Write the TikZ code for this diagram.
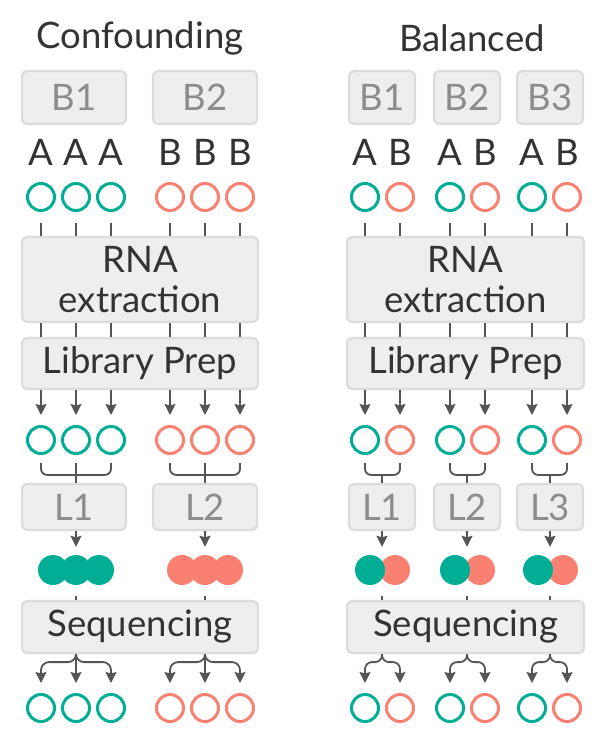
\documentclass[tikz,border=0pt]{standalone}
\usepackage{fontspec}
\setmainfont{Lato}
\usetikzlibrary{arrows.meta}
\definecolor{BTTeal}{HTML}{00AE96}
\definecolor{BTSalmon}{HTML}{FA8072}
\definecolor{BTFill}{HTML}{EEEEEE}
\definecolor{BTLine}{HTML}{DCDCDC}
\definecolor{BTLink}{HTML}{555555}
\definecolor{BTText}{HTML}{333333}
\definecolor{BTMuted}{HTML}{8C8C8C}

\begin{document}
\begin{tikzpicture}[x=1pt,y=-1pt,
  lbl/.style={text=BTText,font=\fontsize{36.5}{40}\selectfont,inner sep=0pt},
  stage/.style={lbl,draw=BTLine,fill=BTFill,line width=2.2pt,rounded corners=5pt,align=center},
  batchbox/.style={stage,text=BTMuted},
  smpl/.style={circle,draw=#1,line width=3pt,minimum size=27pt,inner sep=0pt},
  pool/.style={circle,fill=#1,minimum size=30pt,inner sep=0pt},
  link/.style={draw=BTLink,line width=1.8pt},
  arr/.style={link,-{Stealth[length=11pt,width=11pt,inset=1.5pt]}}]
\path[use as bounding box] (0,0) rectangle (616,750);
\fill[white] (0,0) rectangle (616,750);

% Confounding
\node[lbl] (cTitle) at (140,38) {Confounding};
\node[batchbox,minimum width=104pt,minimum height=53pt] (cB1) at (74,97.5) {B1};
\node[batchbox,minimum width=104pt,minimum height=53pt] (cB2) at (205,97.5) {B2};
\foreach \i/\x/\g/\c in {1/41/A/BTTeal,2/76/A/BTTeal,3/111/A/BTTeal,4/170/B/BTSalmon,5/205/B/BTSalmon,6/240/B/BTSalmon}{
  \node[lbl] (cT\i) at (\x,152.5) {\g};
  \node[smpl=\c] (cS\i) at (\x,197) {};
  \node[smpl=\c] (cR\i) at (\x,440) {};
  \node[smpl=\c] (cO\i) at (\x,708) {};
}
\node[stage,minimum width=236pt,minimum height=85pt] (cRna) at (140,279.5) {RNA\\extraction};
\node[stage,minimum width=236pt,minimum height=51pt] (cLib) at (140,363.5) {Library Prep};
\node[batchbox,minimum width=104pt,minimum height=46pt] (cL1) at (74,507) {L1};
\node[batchbox,minimum width=104pt,minimum height=46pt] (cL2) at (205,507) {L2};
\foreach \i/\x in {1/53,2/76,3/99}
  \node[pool=BTTeal] (cPa\i) at (\x,570) {};
\foreach \i/\x in {1/182,2/205,3/228}
  \node[pool=BTSalmon] (cPb\i) at (\x,570) {};
\node[stage,minimum width=236pt,minimum height=52pt] (cSeq) at (140,627) {Sequencing};

\foreach \i in {1,...,6}{
  \draw[link] ([yshift=-11pt]cS\i.south) -- (cS\i |- cRna.north);
  \draw[link] (cS\i |- cRna.south) -- (cS\i |- cLib.north);
  \draw[arr] (cS\i |- cLib.south) -- ([yshift=10pt]cR\i.north);
}
\foreach \k/\u/\m/\v/\p in {1/1/2/3/cPa2,2/4/5/6/cPb2}{
  \draw[link,rounded corners=6pt] ([yshift=-8pt]cR\u.south) |- ([yshift=8pt]cR\m |- cL\k.north) -| ([yshift=-8pt]cR\v.south);
  \draw[link] ([yshift=-8pt]cR\m.south) -- (cR\m |- cL\k.north);
  \draw[arr] (cR\m |- cL\k.south) -- ([yshift=8pt]\p.north);
  \draw[link] ([yshift=-11pt]\p.south) -- (\p |- cSeq.north);
  \draw[arr] (cO\m |- cSeq.south) -- ([yshift=10pt]cO\m.north);
  \draw[arr,rounded corners=8pt] (cO\m |- cSeq.south) -- ++(0,8) -| ([yshift=10pt]cO\u.north);
  \draw[arr,rounded corners=8pt] (cO\m |- cSeq.south) -- ++(0,8) -| ([yshift=10pt]cO\v.north);
}

% Balanced
\node[lbl] (bTitle) at (472,38) {Balanced};
\foreach \i/\x/\g/\c in {1/365/A/BTTeal,2/400/B/BTSalmon,3/450/A/BTTeal,4/485/B/BTSalmon,5/532/A/BTTeal,6/567/B/BTSalmon}{
  \node[lbl] (bT\i) at (\x,152.5) {\g};
  \node[smpl=\c] (bS\i) at (\x,197) {};
  \node[smpl=\c] (bR\i) at (\x,440) {};
  \node[smpl=\c] (bO\i) at (\x,708) {};
}
\node[stage,minimum width=237pt,minimum height=85pt] (bRna) at (465.5,279.5) {RNA\\extraction};
\node[stage,minimum width=237pt,minimum height=51pt] (bLib) at (465.5,363.5) {Library Prep};
\node[stage,minimum width=237pt,minimum height=52pt] (bSeq) at (465.5,627) {Sequencing};
\foreach \k/\g in {1/382,2/467,3/550}{
  \node[batchbox,minimum width=66pt,minimum height=53pt] (bB\k) at (\g,97.5) {B\k};
  \node[batchbox,minimum width=66pt,minimum height=46pt] (bL\k) at (\g,507) {L\k};
  \node[pool=BTSalmon] (bPb\k) at (\g+13,570) {};
  \node[pool=BTTeal] (bPa\k) at (\g-12,570) {};
}

\foreach \i in {1,...,6}{
  \draw[link] ([yshift=-11pt]bS\i.south) -- (bS\i |- bRna.north);
  \draw[link] (bS\i |- bRna.south) -- (bS\i |- bLib.north);
  \draw[arr] (bS\i |- bLib.south) -- ([yshift=10pt]bR\i.north);
}
\foreach \k/\u/\v in {1/1/2,2/3/4,3/5/6}{
  \draw[link,rounded corners=6pt] ([yshift=-8pt]bR\u.south) |- ([yshift=8pt]bL\k.north) -| ([yshift=-8pt]bR\v.south);
  \draw[link] ([yshift=8pt]bL\k.north) -- (bL\k.north);
  \draw[arr] (bL\k.south) -- ([yshift=8pt]bL\k.south |- bPa\k.north);
  \draw[link] ([yshift=-11pt]bL\k |- bPa\k.south) -- (bL\k |- bSeq.north);
  \draw[arr,rounded corners=7pt] (bL\k |- bSeq.south) -- ++(0,8) -| ([yshift=10pt]bO\u.north);
  \draw[arr,rounded corners=7pt] (bL\k |- bSeq.south) -- ++(0,8) -| ([yshift=10pt]bO\v.north);
}
\end{tikzpicture}
\end{document}
